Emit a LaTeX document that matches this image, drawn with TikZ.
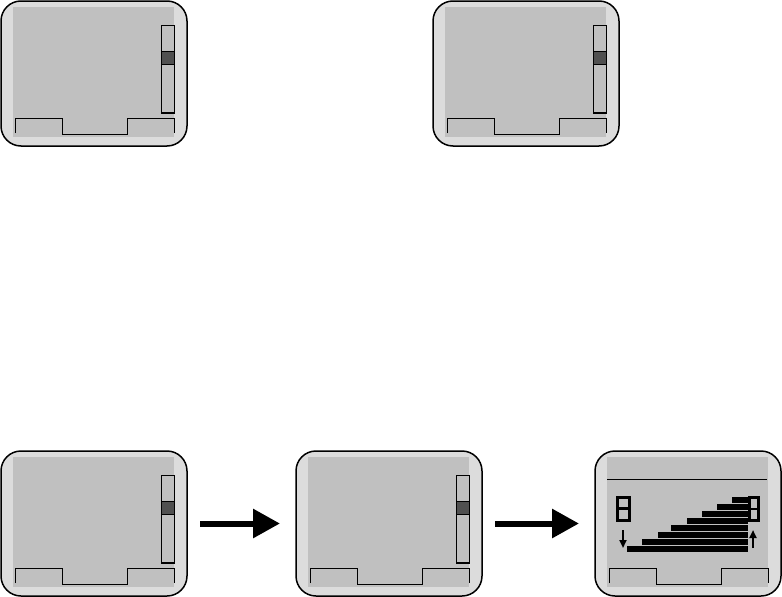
\documentclass[tikz,border=0pt]{standalone}
\usepackage{tikz}
\usetikzlibrary{positioning, arrows.meta}
\definecolor{bezel}{HTML}{DCDCDC}
\definecolor{lcd}{HTML}{C0C0C0}
\definecolor{thumb}{HTML}{505050}

\begin{document}
\begin{tikzpicture}[
  x=1pt, y=-1pt,
  screen/.style={draw, rounded corners=20pt, rectangle, minimum width=186pt, minimum height=145pt, inner sep=0pt, outer sep=0pt, line width=1.5pt, fill=bezel},
  keyline/.style={line width=1pt},
  bigarrow/.style={-{Triangle[length=27pt, width=28pt]}, line width=6pt, shorten <=13pt, shorten >=16pt},
  smallarrow/.style={-{Triangle[length=8pt, width=7pt]}, line width=2pt},
  digit/.style={line width=3pt, fill=lcd}
]
  \useasboundingbox (0,0) rectangle (782,597);

  \node[screen] (topA) at (94,73.5) {};
  \node[screen, right=246pt of topA] (topB) {};
  \node[screen, below=305pt of topA] (botA) {};
  \node[screen, right=109pt of botA] (botB) {};
  \node[screen, right=113pt of botB] (botC) {};

  % display area and soft keys
  \foreach \s in {topA, topB, botA, botB, botC} {
    \begin{scope}[shift={(\s.north west)}]
      \fill[lcd] (12,6) rectangle (173,136);
      \draw[keyline] (14,132) -- (14,117) -- (61,117) -- (61,133) -- (126,133) -- (126,117) -- (173,117) -- (173,132);
    \end{scope}
  }

  % scroll bars
  \foreach \s in {topA, topB, botA, botB} {
    \begin{scope}[shift={(\s.north west)}]
      \draw[keyline, fill=lcd] (160,24) rectangle (173,112);
      \draw[line width=2pt] (160,112) -- (173.5,112);
      \draw[keyline, fill=thumb] (160,50) rectangle (173,63);
    \end{scope}
  }

  % level display
  \begin{scope}[shift={(botC.north west)}]
    \draw[keyline] (12,28) -- (172,28);
    \foreach \l [count=\i from 0] in {137,122,107,92,76,63,47,32}
      \fill (\l,{45.5+7*\i}) rectangle (153,{52+7*\i});
    \draw[digit] (22,46) rectangle (34,69);
    \draw[line width=3pt] (22,57.5) -- (34,57.5);
    \draw[digit] (154,46) rectangle (163,69);
    \draw[line width=2pt] (154,57.5) -- (163,57.5);
    \draw[smallarrow] (28,79) -- (28,97);
    \draw[smallarrow] (158,97) -- (158,79);
  \end{scope}

  \draw[bigarrow] (botA) -- (botB);
  \draw[bigarrow] (botB) -- (botC);
\end{tikzpicture}
\end{document}
